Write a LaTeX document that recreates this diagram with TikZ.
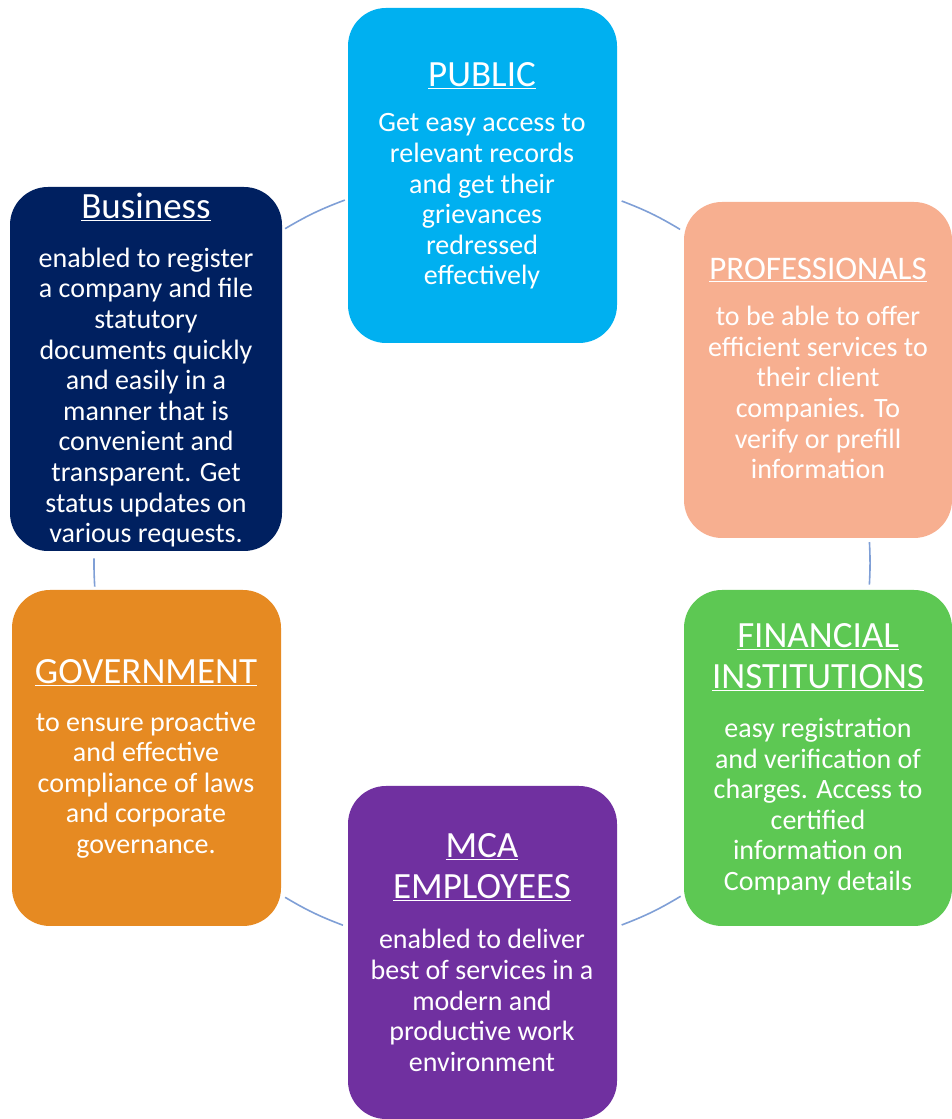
\documentclass[tikz,border=0pt]{standalone}
\usepackage{fontspec}
\setmainfont{Carlito}
\usetikzlibrary{calc}
\definecolor{cpub}{HTML}{00B0F0}
\definecolor{cbiz}{HTML}{002060}
\definecolor{cpro}{HTML}{F7AF90}
\definecolor{cgov}{HTML}{E68A22}
\definecolor{cfin}{HTML}{5DC853}
\definecolor{cmca}{HTML}{7030A0}
\definecolor{cline}{HTML}{7F9FD6}
\tikzset{
  box/.style={draw=none, rounded corners=38pt, inner sep=0pt},
  ttl/.style={text=white, align=center, inner sep=0pt, font=\fontsize{37}{41}\selectfont},
  body/.style={text=white, align=center, inner sep=0pt, font=\fontsize{28}{30.6}\selectfont},
  conn/.style={draw=cline, line width=1.6pt},
}
\newcommand{\ul}[1]{\underline{\smash{#1}}}
\begin{document}
\begin{tikzpicture}[x=1pt,y=1pt]
\useasboundingbox (0,0) rectangle (952,1119);
% boxes
\node[box, fill=cpub, minimum width=269pt, minimum height=335pt] (pub) at (482.5,943.5) {};
\node[box, fill=cbiz, minimum width=272pt, minimum height=364pt] (biz) at (146,750) {};
\node[box, fill=cpro, minimum width=268pt, minimum height=336pt] (pro) at (818,749) {};
\node[box, fill=cgov, minimum width=269pt, minimum height=336pt] (gov) at (146.5,361) {};
\node[box, fill=cfin, minimum width=268pt, minimum height=336pt] (fin) at (818,361) {};
\node[box, fill=cmca, minimum width=269pt, minimum height=333pt] (mca) at (482.5,166.5) {};
% titles
\node[ttl, anchor=base] (pubt) at (482,1119-87) {\ul{PUBLIC}};
\node[ttl, anchor=base] (bizt) at (146,1119-219) {\ul{Business}};
\node[ttl, anchor=base, font=\fontsize{33}{41}\selectfont] (prot) at (818,1119-280) {\ul{PROFESSIONALS}};
\node[ttl, anchor=base] (govt) at (146,1119-684) {\ul{GOVERNMENT}};
\node[ttl, anchor=base] (fint1) at (818,1119-648) {\ul{FINANCIAL}};
\node[ttl, anchor=base] (fint2) at (818,1119-689) {\ul{INSTITUTIONS}};
\node[ttl, anchor=base] (mcat1) at (482,1119-858) {\ul{MCA}};
\node[ttl, anchor=base] (mcat2) at (482,1119-899) {\ul{EMPLOYEES}};
% bodies
\node[body] (pubb) at (482,1119-201.5) {Get easy access to\\relevant records\\and get their\\grievances\\redressed\\effectively};
\node[body] (bizb) at (146,1119-397.5) {enabled to register\\a company and file\\statutory\\documents quickly\\and easily in a\\manner that is\\convenient and\\transparent. Get\\status updates on\\various requests.};
\node[body] (prob) at (818,1119-392.5) {to be able to offer\\efficient services to\\their client\\companies. To\\verify or prefill\\information};
\node[body] (finb) at (818,1119-806.5) {easy registration\\and verification of\\charges. Access to\\certified\\information on\\Company details};
\node[body] (govb) at (146,1119-785) {to ensure proactive\\and effective\\compliance of laws\\and corporate\\governance.};
\node[body] (mcab) at (482,1119-1000.5) {enabled to deliver\\best of services in a\\modern and\\productive work\\environment};
% connectors: arcs of the cycle circle
\coordinate (ctr) at (482,556);
\coordinate (a1) at ($(ctr)+(120.5:388pt)$);
\coordinate (b1) at ($(ctr)+(110.7:388pt)$);
\coordinate (a2) at ($(ctr)+(68.9:388pt)$);
\coordinate (b2) at ($(ctr)+(59.3:388pt)$);
\coordinate (a3) at ($(ctr)+(3.1:388pt)$);
\coordinate (b3) at ($(ctr)+(-3.2:388pt)$);
\coordinate (a4) at ($(ctr)+(-59.2:388pt)$);
\coordinate (b4) at ($(ctr)+(-68.9:388pt)$);
\coordinate (a5) at ($(ctr)+(-111:388pt)$);
\coordinate (b5) at ($(ctr)+(-120.5:388pt)$);
\coordinate (a6) at ($(ctr)+(183.5:388pt)$);
\coordinate (b6) at ($(ctr)+(179.3:388pt)$);
\draw[conn] (a1) to[bend left=5] (b1);
\draw[conn] (a2) to[bend left=5] (b2);
\draw[conn] (a3) to[bend left=3] (b3);
\draw[conn] (a4) to[bend left=5] (b4);
\draw[conn] (a5) to[bend left=5] (b5);
\draw[conn] (a6) to[bend left=2] (b6);
\end{tikzpicture}
\end{document}
